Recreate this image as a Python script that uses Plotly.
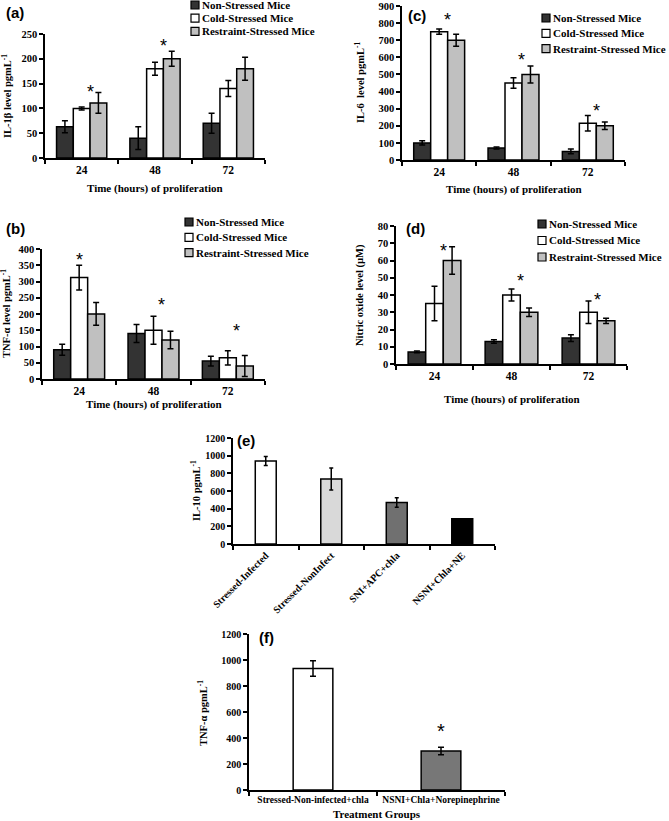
import plotly.graph_objects as go

W, H = 669, 821

# ---------------- data ----------------
times = ["24", "48", "72"]
series_names = ["Non-Stressed Mice", "Cold-Stressed Mice", "Restraint-Stressed Mice"]
series_colors = ["#333333", "#ffffff", "#c0c0c0"]

il1b_vals = [[63, 40, 70], [100, 180, 140], [111, 200, 180]]
il1b_err = [[12, 23, 20], [3, 13, 16], [21, 15, 23]]
il1b_star = [140, 231, None]

tnf_vals = [[90, 140, 55], [312, 150, 65], [200, 120, 40]]
tnf_err = [[17, 28, 15], [38, 43, 22], [35, 27, 32]]
tnf_star = [374, 238, 158]

il6_vals = [[100, 70, 50], [750, 450, 215], [700, 500, 200]]
il6_err = [[12, 6, 14], [15, 30, 45], [35, 50, 22]]
il6_star = [837, 604, 304]

no_vals = [[7, 13, 15], [35, 40, 30], [60, 30, 25]]
no_err = [[0.5, 1, 2], [10, 3.5, 6.5], [8, 2.5, 1.5]]
no_star = [67, 49.7, 39]

e_groups = ["Stressed-Infected", "Stressed-NonInfect", "SNI+APC+chla", "NSNI+Chla+NE"]
e_vals = [940, 735, 470, 285]
e_err = [50, 125, 55, 0]
e_colors = ["#ffffff", "#d9d9d9", "#707070", "#000000"]

f_groups = ["Stressed-Non-infected+chla", "NSNI+Chla+Norepinephrine"]
f_vals = [935, 300]
f_err = [60, 28]
f_star = [None, 477]
f_colors = ["#ffffff", "#777777"]

SERIF = "Liberation Serif"
SANS = "Liberation Sans"


def px_x(p):
    return p / W


def px_y(p):
    return 1 - p / H


fig = go.Figure()
annotations = []
shapes = []

# panel boxes in pixels: left, right, top, bottom
panels = {
    "a": dict(ax="", box=(45, 265, 34, 158), vals=il1b_vals, err=il1b_err, star=il1b_star,
              ymax=250, dtick=50, ytitle="IL-1β level pgmL<sup>-1</sup>", ytx=6,
              xtitle_y=189, legend_pos=(191, 5, 13.2), label_pos=(4, 13), star_off=[0.114, 0.114, 0.114]),
    "b": dict(ax="2", box=(42, 265, 249, 379), vals=tnf_vals, err=tnf_err, star=tnf_star,
              ymax=400, dtick=50, ytitle="TNF-α level pgmL<sup>-1</sup>", ytx=6,
              xtitle_y=404, legend_pos=(185, 222, 15.3), label_pos=(4, 228), star_off=[0.0, 0.114, 0.114]),
    "c": dict(ax="3", box=(402, 625, 6, 160), vals=il6_vals, err=il6_err, star=il6_star,
              ymax=900, dtick=100, ytitle="IL-6  level pgmL<sup>-1</sup>", ytx=360,
              xtitle_y=190, legend_pos=(542, 18, 15.3), label_pos=(406, 15), star_off=[0.114, 0.114, 0.114]),
    "d": dict(ax="4", box=(396, 627, 226, 364), vals=no_vals, err=no_err, star=no_star,
              ymax=80, dtick=10, ytitle="Nitric oxide level (µM)", ytx=360,
              xtitle_y=399, legend_pos=(538, 224, 16.5), label_pos=(404, 228), star_off=[0.114, 0.114, 0.114]),
}

tick_font = dict(family=SERIF, size=10.5, color="black", weight="bold")
title_font = dict(family=SERIF, size=10.5, color="black", weight="bold")
legend_font = dict(family=SERIF, size=11, color="black", weight="bold")

for key, p in panels.items():
    l, r, t, b = p["box"]
    ax = p["ax"]
    for i, name in enumerate(series_names):
        fig.add_trace(go.Bar(
            x=times, y=p["vals"][i], name=name,
            marker=dict(color=series_colors[i], line=dict(color="black", width=1.5)),
            error_y=dict(type="data", array=p["err"][i], color="black", thickness=1.5, width=3),
            xaxis="x" + ax, yaxis="y" + ax, showlegend=False,
        ))
    xa = dict(domain=[px_x(l), px_x(r)], anchor="y" + ax, type="category",
              showline=True, linecolor="black", linewidth=1.5, ticks="outside",
              tickson="boundaries", ticklen=4, tickwidth=1.5, tickcolor="black",
              tickfont=dict(family=SERIF, size=11.5, color="black", weight="bold"),
              showgrid=False, zeroline=False, range=[-0.5, 2.5], automargin=False)
    ya = dict(domain=[px_y(b), px_y(t)], anchor="x" + ax, range=[0, p["ymax"]],
              dtick=p["dtick"], showline=True, linecolor="black", linewidth=1.5,
              ticks="outside", ticklen=4, tickwidth=1.5, tickcolor="black",
              tickfont=tick_font, showgrid=False, zeroline=False, automargin=False)
    fig.layout["xaxis" + ax] = xa
    fig.layout["yaxis" + ax] = ya
    # legend (key boxes + labels)
    lx, ly, step = p["legend_pos"]
    for i, name in enumerate(series_names):
        cy = ly + i * step
        shapes.append(dict(type="rect", xref="paper", yref="paper",
                           x0=px_x(lx), x1=px_x(lx + 8), y0=px_y(cy + 4), y1=px_y(cy - 4),
                           fillcolor=series_colors[i], line=dict(color="black", width=1.2)))
        annotations.append(dict(text=name, xref="paper", yref="paper",
                                x=px_x(lx + 9), y=px_y(cy), showarrow=False, font=legend_font,
                                xanchor="left", yanchor="middle"))
    # y title
    annotations.append(dict(text=p["ytitle"], xref="paper", yref="paper",
                            x=px_x(p["ytx"]), y=px_y((t + b) / 2), textangle=-90,
                            showarrow=False, font=title_font, xanchor="center", yanchor="middle"))
    # x title
    annotations.append(dict(text="Time (hours) of proliferation", xref="paper", yref="paper",
                            x=px_x((l + r) / 2), y=px_y(p["xtitle_y"]), showarrow=False,
                            font=dict(family=SERIF, size=11, color="black", weight="bold"),
                            xanchor="center", yanchor="middle"))
    # panel label
    lbx, lby = p["label_pos"]
    annotations.append(dict(text=f"({key})", xref="paper", yref="paper",
                            x=px_x(lbx), y=px_y(lby), showarrow=False,
                            font=dict(family=SANS, size=15, color="black", weight="bold"),
                            xanchor="left", yanchor="middle"))
    # asterisks
    for j, sv in enumerate(p["star"]):
        if sv is None:
            continue
        annotations.append(dict(text="*", xref="x" + ax, yref="y" + ax,
                                x=j + p["star_off"][j], y=sv, showarrow=False,
                                font=dict(family=SANS, size=18, color="black"),
                                xanchor="center", yanchor="middle", yshift=-3))

# ---------------- panel e ----------------
fig.add_trace(go.Bar(
    x=e_groups, y=e_vals, width=0.32, showlegend=False,
    marker=dict(color=e_colors, line=dict(color="black", width=1.5)),
    error_y=dict(type="data", array=e_err, color="black", thickness=1.5, width=2),
    xaxis="x5", yaxis="y5",
))
fig.layout["xaxis5"] = dict(domain=[px_x(233), px_x(495)], anchor="y5", type="category",
                            showline=True, linecolor="black", linewidth=1.5, ticks="outside",
                            tickson="boundaries", ticklen=4, tickwidth=1.5, tickcolor="black",
                            tickangle=-45,
                            tickfont=dict(family=SERIF, size=10, color="black", weight="bold"),
                            showgrid=False, zeroline=False, range=[-0.5, 3.5], automargin=False)
fig.layout["yaxis5"] = dict(domain=[px_y(544), px_y(438)], anchor="x5", range=[0, 1200],
                            dtick=200, showline=True, linecolor="black", linewidth=1.5,
                            ticks="outside", ticklen=4, tickwidth=1.5, tickcolor="black",
                            tickfont=dict(family=SERIF, size=10, color="black", weight="bold"),
                            showgrid=False, zeroline=False, automargin=False)
annotations.append(dict(text="IL-10 pgmL<sup>-1</sup>", xref="paper", yref="paper",
                        x=px_x(195), y=px_y(491), textangle=-90, showarrow=False,
                        font=title_font, xanchor="center", yanchor="middle"))
annotations.append(dict(text="(e)", xref="paper", yref="paper", x=px_x(235), y=px_y(440),
                        showarrow=False, font=dict(family=SANS, size=15, color="black", weight="bold"),
                        xanchor="left", yanchor="middle"))

# ---------------- panel f ----------------
fig.add_trace(go.Bar(
    x=f_groups, y=f_vals, width=0.31, showlegend=False,
    marker=dict(color=f_colors, line=dict(color="black", width=1.5)),
    error_y=dict(type="data", array=f_err, color="black", thickness=1.5, width=3),
    xaxis="x6", yaxis="y6",
))
fig.layout["xaxis6"] = dict(domain=[px_x(249), px_x(505)], anchor="y6", type="category",
                            showline=True, linecolor="black", linewidth=1.5, ticks="outside",
                            tickson="boundaries", ticklen=4, tickwidth=1.5, tickcolor="black",
                            tickangle=0,
                            tickfont=dict(family=SERIF, size=9.5, color="black", weight="bold"),
                            showgrid=False, zeroline=False, range=[-0.5, 1.5], automargin=False)
fig.layout["yaxis6"] = dict(domain=[px_y(790), px_y(634)], anchor="x6", range=[0, 1200],
                            dtick=200, showline=True, linecolor="black", linewidth=1.5,
                            ticks="outside", ticklen=4, tickwidth=1.5, tickcolor="black",
                            tickfont=dict(family=SERIF, size=10, color="black", weight="bold"),
                            showgrid=False, zeroline=False, automargin=False)
annotations.append(dict(text="TNF-α pgmL<sup>-1</sup>", xref="paper", yref="paper",
                        x=px_x(202), y=px_y(713), textangle=-90, showarrow=False,
                        font=title_font, xanchor="center", yanchor="middle"))
annotations.append(dict(text="Treatment Groups", xref="paper", yref="paper",
                        x=px_x(377), y=px_y(814), showarrow=False,
                        font=dict(family=SERIF, size=11, color="black", weight="bold"),
                        xanchor="center", yanchor="middle"))
annotations.append(dict(text="(f)", xref="paper", yref="paper", x=px_x(257), y=px_y(637),
                        showarrow=False, font=dict(family=SANS, size=15, color="black", weight="bold"),
                        xanchor="left", yanchor="middle"))
for j, sv in enumerate(f_star):
    if sv is None:
        continue
    annotations.append(dict(text="*", xref="x6", yref="y6", x=j, y=sv, showarrow=False,
                            font=dict(family=SANS, size=20, color="black"),
                            xanchor="center", yanchor="middle", yshift=-3))

fig.update_layout(
    width=W, height=H,
    margin=dict(l=0, r=0, t=0, b=0, autoexpand=False),
    paper_bgcolor="white", plot_bgcolor="white",
    barmode="group", bargap=0.315, bargroupgap=0,
    showlegend=False,
    annotations=annotations,
    shapes=shapes,
)

fig.write_html("out.html",
               config={"displayModeBar": False},
               post_script="document.body.style.margin='0';document.body.style.overflow='hidden';")
